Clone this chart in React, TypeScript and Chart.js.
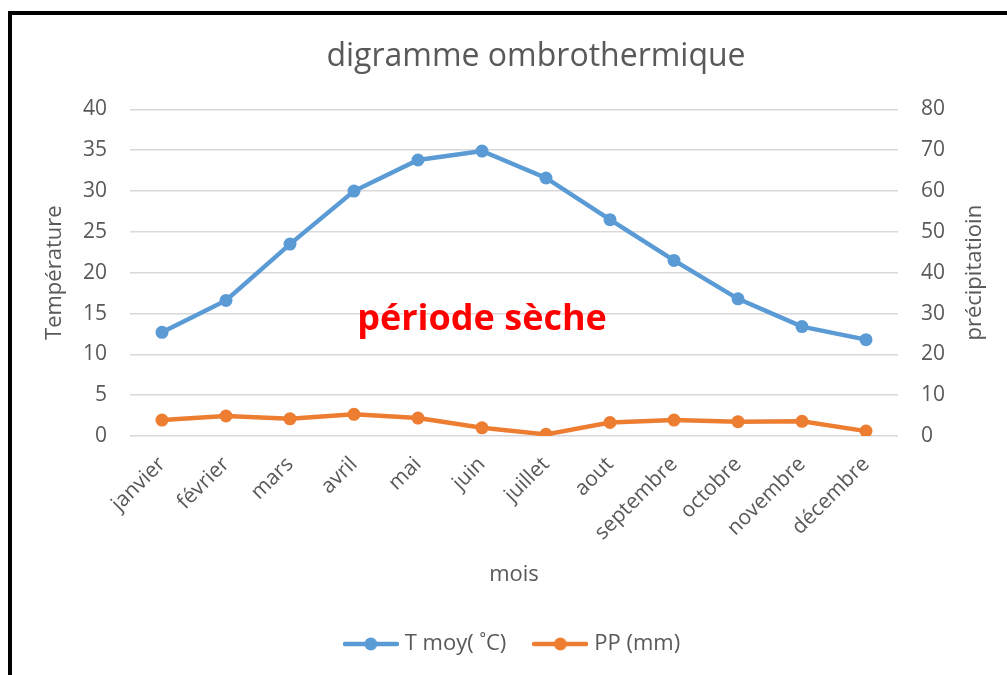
import React, { useEffect, useRef } from 'react';
import { Chart, registerables } from 'chart.js';

Chart.register(...registerables);

const months = ['janvier', 'février', 'mars', 'avril', 'mai', 'juin', 'juillet', 'aout', 'septembre', 'octobre', 'novembre', 'décembre'];
const tMoy = [12.7, 16.6, 23.5, 30.0, 33.8, 34.9, 31.6, 26.5, 21.5, 16.8, 13.4, 11.8];
const pp = [3.9, 4.9, 4.2, 5.3, 4.4, 2.0, 0.4, 3.3, 3.9, 3.5, 3.6, 1.2];

const seriesNames = ['T moy( ˚C)', 'PP (mm)'];
const chartTitle = 'digramme ombrothermique';
const xTitle = 'mois';
const leftTitle = 'Température';
const rightTitle = 'précipitatioin';
const annotationText = 'période sèche';
const annotationMonth = 'juin';
const annotationTemp = 14.2;

const FONT = '"Open Sans", sans-serif';
const GREY = '#595959';
const BLUE = '#5B9BD5';
const ORANGE = '#ED7D31';
const TICK_SIZE = 21;
const AXIS_TITLE_SIZE = 22;

function legendMarker(color: string) {
  const c = document.createElement('canvas');
  c.width = 56;
  c.height = 16;
  const ctx = c.getContext('2d')!;
  ctx.strokeStyle = color;
  ctx.lineWidth = 4.5;
  ctx.lineCap = 'round';
  ctx.beginPath();
  ctx.moveTo(2, 8);
  ctx.lineTo(54, 8);
  ctx.stroke();
  ctx.fillStyle = color;
  ctx.beginPath();
  ctx.arc(28, 8, 6.5, 0, Math.PI * 2);
  ctx.fill();
  return c;
}

const overlay = {
  id: 'overlay',
  afterDatasetsDraw(chart: any) {
    const { ctx, scales } = chart;
    const x = scales.x.getPixelForValue(months.indexOf(annotationMonth));
    const y = scales.yT.getPixelForValue(annotationTemp);
    ctx.save();
    ctx.font = `bold 36px ${FONT}`;
    ctx.fillStyle = '#FF0000';
    ctx.textAlign = 'center';
    ctx.textBaseline = 'middle';
    ctx.fillText(annotationText, x, y);
    ctx.restore();

    const r = scales.yP;
    ctx.save();
    ctx.translate(r.left + 77, (r.top + r.bottom) / 2);
    ctx.rotate(-Math.PI / 2);
    ctx.font = `${AXIS_TITLE_SIZE}px ${FONT}`;
    ctx.fillStyle = GREY;
    ctx.textAlign = 'center';
    ctx.textBaseline = 'middle';
    ctx.fillText(rightTitle, 0, 0);
    ctx.restore();
  },
};

export default function App() {
  const ref = useRef<HTMLCanvasElement>(null);

  useEffect(() => {
    const markers = [legendMarker(BLUE), legendMarker(ORANGE)];
    const chart = new Chart(ref.current!, {
      type: 'line',
      data: {
        labels: months,
        datasets: [
          {
            label: seriesNames[0],
            data: tMoy,
            yAxisID: 'yT',
            borderColor: BLUE,
            backgroundColor: BLUE,
            borderWidth: 4.5,
            pointRadius: 6.5,
            pointBorderWidth: 0,
            tension: 0,
          },
          {
            label: seriesNames[1],
            data: pp,
            yAxisID: 'yP',
            borderColor: ORANGE,
            backgroundColor: ORANGE,
            borderWidth: 4.5,
            pointRadius: 6.5,
            pointBorderWidth: 0,
            tension: 0,
          },
        ],
      },
      options: {
        animation: false,
        responsive: true,
        maintainAspectRatio: false,
        layout: { padding: { top: 0, right: 0, bottom: 10, left: 0 } },
        plugins: {
          title: {
            display: true,
            text: chartTitle,
            color: GREY,
            font: { family: FONT, size: 32, weight: 'normal' },
            padding: { top: 23, bottom: 33 },
          },
          legend: {
            position: 'bottom',
            fullSize: false,
            labels: {
              usePointStyle: true,
              pointStyleWidth: 46,
              color: GREY,
              font: { family: FONT, size: 22 },
              padding: 31,
              generateLabels(c: any) {
                const items = (Chart.defaults.plugins.legend.labels as any).generateLabels(c);
                items.forEach((it: any, i: number) => {
                  it.pointStyle = markers[i];
                });
                return items;
              },
            },
          },
          tooltip: { enabled: false },
        },
        scales: {
          x: {
            type: 'category',
            offset: true,
            grid: { display: false, drawTicks: false },
            border: { display: false },
            ticks: {
              autoSkip: false,
              minRotation: 45,
              maxRotation: 45,
              color: GREY,
              font: { family: FONT, size: TICK_SIZE },
              padding: 16,
            },
            title: {
              display: true,
              text: xTitle,
              color: GREY,
              font: { family: FONT, size: AXIS_TITLE_SIZE },
              padding: { top: 4, bottom: 14 },
            },
            afterFit(s: any) {
              s.height = 166;
            },
          },
          yT: {
            type: 'linear',
            position: 'left',
            min: 0,
            max: 40,
            ticks: { stepSize: 5, color: GREY, font: { family: FONT, size: TICK_SIZE }, padding: 23 },
            grid: { color: '#D9D9D9', lineWidth: 1.5, drawTicks: false },
            border: { display: false },
            title: {
              display: true,
              text: leftTitle,
              color: GREY,
              font: { family: FONT, size: AXIS_TITLE_SIZE },
              padding: { top: 30, bottom: 0 },
            },
            afterFit(s: any) {
              s.width = 118;
            },
          },
          yP: {
            type: 'linear',
            position: 'right',
            min: 0,
            max: 80,
            ticks: { stepSize: 10, color: GREY, font: { family: FONT, size: TICK_SIZE }, padding: 23 },
            grid: { display: false, drawTicks: false },
            border: { display: false },
            afterFit(s: any) {
              s.width = 162;
            },
          },
        },
      },
      plugins: [overlay],
    } as any);
    return () => chart.destroy();
  }, []);

  return (
    <div
      style={{
        position: 'absolute',
        left: 8,
        top: 11,
        width: 999,
        height: 664,
        boxSizing: 'border-box',
        borderLeft: '4px solid black',
        borderTop: '4px solid black',
        background: 'white',
        overflow: 'hidden',
      }}
    >
      <div style={{ position: 'relative', width: 1048, height: 660 }}>
        <canvas ref={ref} />
      </div>
    </div>
  );
}
